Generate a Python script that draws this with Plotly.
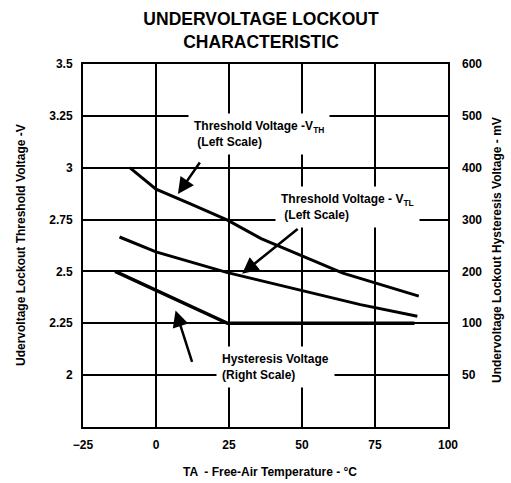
import plotly.graph_objects as go

# ---- data ----
temp_vth = [-9, 0, 12, 24.5, 36, 50, 64, 90]
vth = [3.0, 2.897, 2.825, 2.747, 2.658, 2.575, 2.492, 2.381]

temp_vtl = [-12.5, 0, 24.5, 49.5, 70, 89.5]
vtl = [2.666, 2.594, 2.494, 2.409, 2.34, 2.284]

temp_hys = [-14, 24.5, 88.5]
hys_mv = [200, 100, 100]

x_ticks = [-25, 0, 25, 50, 75, 100]
y_ticks = [2, 2.25, 2.5, 2.75, 3, 3.25, 3.5]
y_ticktext = ["2", "2.25", "2.5", "2.75", "3", "3.25", "3.5"]
y2_ticks = [0, 100, 200, 300, 400, 500, 600]
y2_ticktext = ["50", "100", "200", "300", "400", "500", "600"]

FONT = "Liberation Sans, Arial, sans-serif"
bold = dict(family=FONT, color="black", weight="bold")

fig = go.Figure()
line_style = dict(color="black", width=3)
fig.add_trace(go.Scatter(x=temp_vth, y=vth, mode="lines", line=line_style,
                         name="VTH", yaxis="y"))
fig.add_trace(go.Scatter(x=temp_vtl, y=vtl, mode="lines", line=line_style,
                         name="VTL", yaxis="y"))
fig.add_trace(go.Scatter(x=temp_hys, y=hys_mv, mode="lines",
                         line=dict(color="black", width=3.5),
                         name="Hysteresis", yaxis="y2"))

W, H = 511, 483
L, R, T, B = 83, 448, 64, 427


def px(xp):
    return (xp - L) / (R - L)


def py(yp):
    return (B - yp) / (B - T)


annotations = []
# text boxes
boxes = [
    ("Threshold Voltage -V<sub>TH</sub><br> (Left Scale)", 188, 113),
    ("Threshold Voltage - V<sub>TL</sub><br> (Left Scale)", 275, 186),
    ("Hysteresis Voltage<br>(Right Scale)", 216, 346),
]
for txt, xp, yp in boxes:
    annotations.append(dict(text=txt, xref="paper", yref="paper", x=px(xp), y=py(yp),
                            xanchor="left", yanchor="top", align="left", showarrow=False,
                            bgcolor="white", borderpad=5,
                            font=dict(size=12, **bold)))
# arrows (head in data coords, tail offset in pixels)
arrows = [
    (7.5, 2.873, 23, -33),
    (29.5, 2.489, 57, -46),
    (6.7, 2.312, 17, 53),
]
for xh, yh, ax, ay in arrows:
    annotations.append(dict(text="", x=xh, y=yh, xref="x", yref="y", ax=ax, ay=ay,
                            showarrow=True, arrowhead=2, arrowsize=1.3, arrowwidth=2.5,
                            arrowcolor="black", standoff=0))
# axis titles
annotations.append(dict(text="Udervoltage Lockout Threshold Voltage -V", xref="paper",
                        yref="paper", x=px(21), y=py(245), textangle=-90, showarrow=False,
                        xanchor="center", yanchor="middle", font=dict(size=12, **bold)))
annotations.append(dict(text="Undervoltage Lockout Hysteresis Voltage - mV", xref="paper",
                        yref="paper", x=px(497), y=py(250), textangle=-90, showarrow=False,
                        xanchor="center", yanchor="middle", font=dict(size=12, **bold)))
annotations.append(dict(text="TA  - Free-Air Temperature - °C", xref="paper",
                        yref="paper", x=px(270), y=py(472), showarrow=False,
                        xanchor="center", yanchor="middle", font=dict(size=12, **bold)))

fig.update_layout(
    width=W, height=H,
    margin=dict(l=L, r=W - R, t=T, b=H - B),
    paper_bgcolor="white", plot_bgcolor="white",
    showlegend=False,
    title=dict(text="UNDERVOLTAGE LOCKOUT<br>CHARACTERISTIC", x=261 / W, xanchor="center",
               xref="container", yref="container", y=1 - 25 / H, yanchor="middle",
               font=dict(size=17.5, **bold)),
    xaxis=dict(range=[-25, 100], tickvals=x_ticks, showgrid=True, gridcolor="black",
               gridwidth=2, showline=True, linecolor="black", linewidth=2, mirror=True,
               zeroline=False, ticks="", ticklabelstandoff=6,
               tickfont=dict(size=12, **bold)),
    yaxis=dict(range=[1.75, 3.5], tickvals=y_ticks, ticktext=y_ticktext, showgrid=True,
               gridcolor="black", gridwidth=2, showline=True, linecolor="black",
               linewidth=2, mirror=True, zeroline=False, ticks="", ticklabelstandoff=6,
               tickfont=dict(size=12, **bold)),
    yaxis2=dict(range=[-100, 600], tickvals=y2_ticks, ticktext=y2_ticktext,
                overlaying="y", side="right", showgrid=False, zeroline=False,
                showline=False, ticks="", ticklabelstandoff=13,
                tickfont=dict(size=12, **bold)),
    annotations=annotations,
)

fig.write_html("out.html", config={"displayModeBar": False},
               post_script="document.body.style.margin='0';document.body.style.overflow='hidden';")
